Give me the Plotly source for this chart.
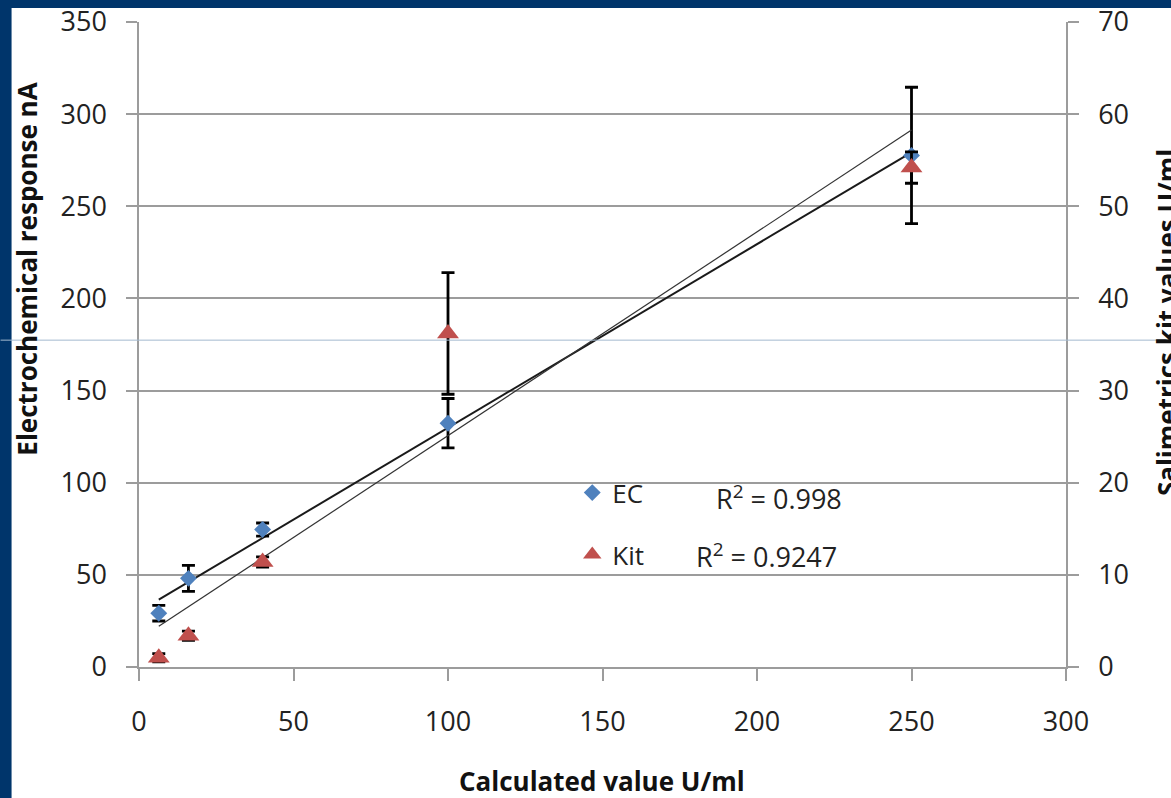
import numpy as np
import plotly.graph_objects as go

# ---------------- data ----------------
conc = [6.4, 16, 40, 100, 250]                 # Calculated value U/ml
ec_resp = [29.2, 48.1, 74.6, 132.3, 277.6]     # Electrochemical response nA
ec_err = [4.25, 7.05, 3.55, 13.4, 37.0]
kit_vals = [1.0, 3.4, 11.4, 36.2, 54.2]        # Salimetrics kit values U/ml
kit_err = [0.45, 0.5, 0.55, 6.6, 1.7]
r2_labels = ["R<sup>2</sup> = 0.998", "R<sup>2</sup> = 0.9247"]
series_names = ["EC", "Kit"]

# ---------------- layout geometry (pixels) ----------------
FIG_W, FIG_H = 1171, 798
PL, PR, PT, PB = 138.5, 1066, 22, 666.7
PW, PH = PR - PL, PB - PT


def px_x(p):
    return (p - PL) / PW


def px_y(p):
    return (PB - p) / PH


FONT = "Open Sans"
BLUE = "#4F81BD"
RED = "#C0504D"
GRID = "#9c9c9c"
NAVY = "#00356B"

# linear fits (trendlines)
xs = np.array(conc, dtype=float)
ec_fit = np.polyfit(xs, np.array(ec_resp), 1)
kit_fit = np.polyfit(xs, np.array(kit_vals), 1)
xfit = [xs.min(), xs.max()]

fig = go.Figure()

fig.add_trace(go.Scatter(
    x=xfit, y=list(np.polyval(ec_fit, xfit)), mode="lines",
    line=dict(color="#1a1a1a", width=2), showlegend=False, hoverinfo="skip"))

fig.add_trace(go.Scatter(
    x=conc, y=ec_resp, mode="markers", name=series_names[0],
    marker=dict(symbol="diamond", size=13, color=BLUE),
    error_y=dict(type="data", array=ec_err, visible=True, color="black",
                 thickness=2.8, width=6.5),
    legendgroup="ec"))

fig.add_trace(go.Scatter(
    x=xfit, y=list(np.polyval(kit_fit, xfit)), mode="lines", yaxis="y2",
    line=dict(color="#333333", width=1.2), showlegend=False, hoverinfo="skip"))

fig.add_trace(go.Scatter(
    x=conc, y=kit_vals, mode="markers", name=series_names[1], yaxis="y2",
    marker=dict(symbol="triangle-up", size=19, color=RED),
    error_y=dict(type="data", array=kit_err, visible=True, color="black",
                 thickness=2.8, width=6.5),
    legendgroup="kit"))

tickfont = dict(family=FONT, size=27, color="#222222")

fig.update_layout(
    width=FIG_W, height=FIG_H,
    margin=dict(l=PL, r=FIG_W - PR, t=PT, b=FIG_H - PB, pad=0, autoexpand=False),
    paper_bgcolor="white", plot_bgcolor="white",
    font=dict(family=FONT, color="#222222"),
    xaxis=dict(range=[0, 300], dtick=50, tick0=0, showgrid=False, zeroline=False,
               automargin=False,
               showline=True, linecolor=GRID, linewidth=1.5,
               ticks="outside", ticklen=12, tickwidth=1.5, tickcolor=GRID,
               tickfont=tickfont, ticklabelstandoff=18),
    yaxis=dict(range=[0, 350], dtick=50, tick0=0, showgrid=True, gridcolor=GRID,
               gridwidth=1.5, zeroline=False, automargin=False,
               showline=True, linecolor=GRID, linewidth=1.5,
               ticks="outside", ticklen=11, tickwidth=1.5, tickcolor=GRID,
               tickfont=tickfont, ticklabelstandoff=14),
    yaxis2=dict(range=[0, 70], dtick=10, tick0=0, overlaying="y", side="right",
                showgrid=False, zeroline=False, automargin=False,
                showline=True, linecolor=GRID, linewidth=1.5,
                ticks="outside", ticklen=11, tickwidth=1.5, tickcolor=GRID,
                tickfont=tickfont, ticklabelstandoff=14),
    legend=dict(x=px_x(572), y=px_y(469), xanchor="left", yanchor="top",
                bgcolor="rgba(0,0,0,0)", font=dict(family=FONT, size=26, color="#222222"),
                tracegroupgap=25, traceorder="grouped"),
)

annotations = [
    dict(text="<b>Calculated value U/ml</b>", x=px_x(602), y=px_y(781)),
    dict(text="<b>Electrochemical response nA</b>", x=px_x(27), y=px_y(269),
         textangle=-90),
    dict(text="<b>Salimetrics kit values U/ml</b>", x=px_x(1167), y=px_y(322),
         textangle=-90),
    dict(text=r2_labels[0], x=px_x(779), y=px_y(497)),
    dict(text=r2_labels[1], x=px_x(766), y=px_y(555)),
]
for i, a in enumerate(annotations):
    a.update(xref="paper", yref="paper", showarrow=False,
             xanchor="center", yanchor="middle")
    if i < 3:
        a["font"] = dict(family=FONT, size=26, color="#111111")
    else:
        a["font"] = dict(family=FONT, size=27, color="#222222")
fig.update_layout(annotations=annotations)

shapes = [
    # navy slide frame (top and left)
    dict(type="rect", xref="paper", yref="paper",
         x0=px_x(-5), x1=px_x(FIG_W + 5), y0=px_y(8), y1=px_y(-5),
         fillcolor=NAVY, line=dict(width=0), layer="above"),
    dict(type="rect", xref="paper", yref="paper",
         x0=px_x(-5), x1=px_x(11), y0=px_y(FIG_H + 5), y1=px_y(-5),
         fillcolor=NAVY, line=dict(width=0), layer="above"),
    # faint slide guide line
    dict(type="line", xref="paper", yref="paper",
         x0=px_x(0), x1=px_x(FIG_W), y0=px_y(340), y1=px_y(340),
         line=dict(color="#a3b9cf", width=1), layer="above"),
]
fig.update_layout(shapes=shapes)

fig.write_html("out.html")
